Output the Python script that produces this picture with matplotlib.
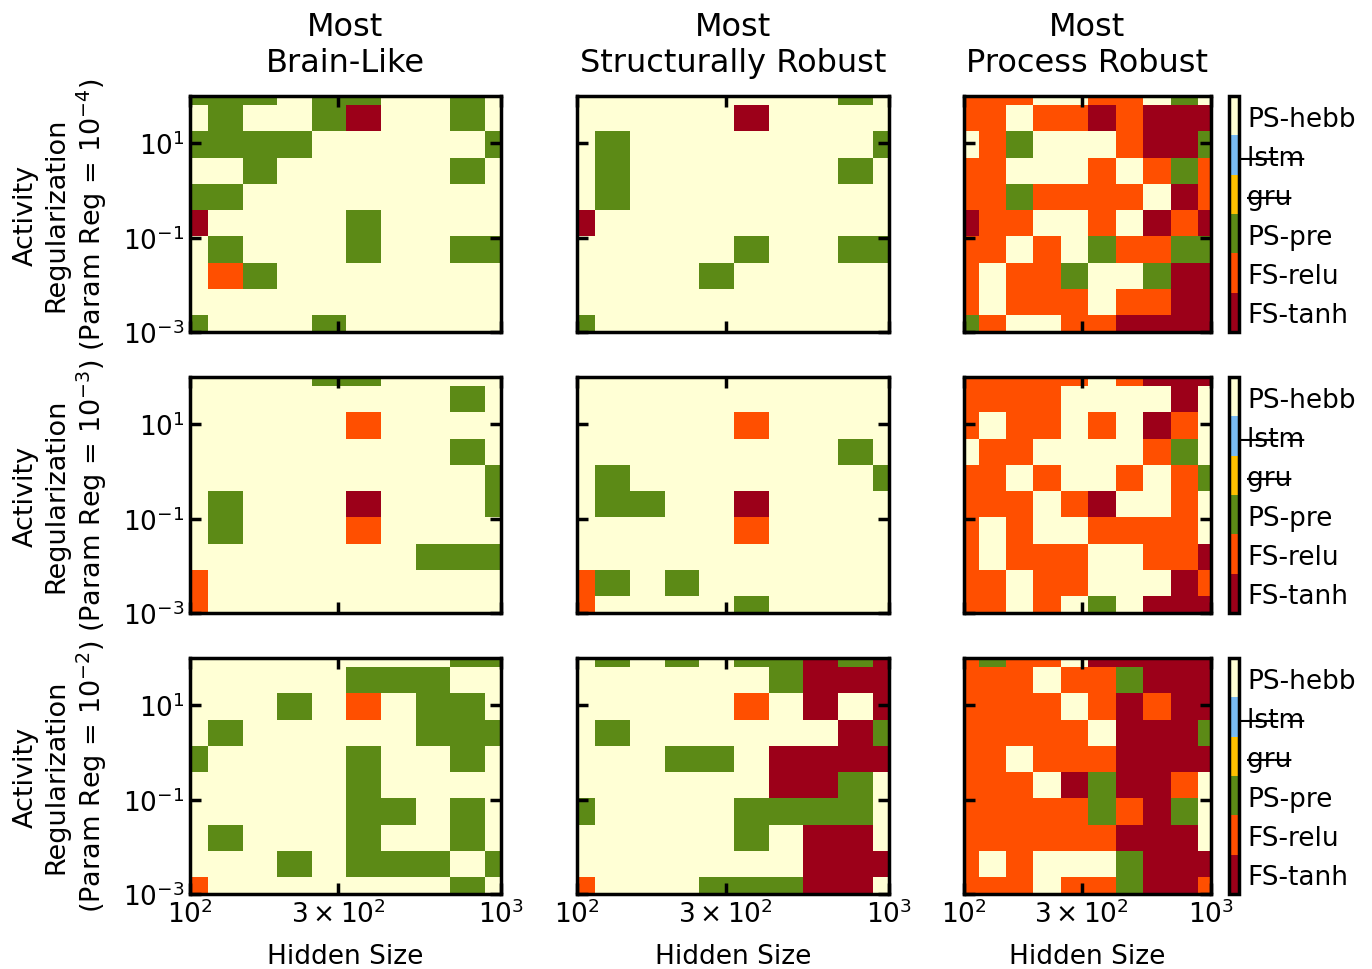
import numpy as np
import matplotlib
matplotlib.use('Agg')
from matplotlib import pyplot as plt
from matplotlib.cm import ScalarMappable
from matplotlib.colors import ListedColormap, BoundaryNorm
from matplotlib.ticker import FixedLocator, FixedFormatter, NullLocator

# axis values (cell centres)
hidden_sizes = [100, 129, 167, 215, 278, 359, 464, 599, 774, 1000]
act_regs = [1e-3, 3.59e-3, 1.29e-2, 4.64e-2, 1.67e-1, 5.99e-1, 2.15, 7.74, 27.8, 100]

# categories, bottom to top on the colorbar
model_names = ['FS-tanh', 'FS-relu', 'PS-pre', 'gru', 'lstm', 'PS-hebb']
model_colors = ['#9c0019', '#ff4f00', '#5c8a16', '#ffc000', '#79bbf3', '#ffffd5']
codes = {'T': 0, 'R': 1, 'P': 2, 'G': 3, 'L': 4, 'H': 5}

titles = ['Most\nBrain-Like', 'Most\nStructurally Robust', 'Most\nProcess Robust']
param_regs = ['-4', '-3', '-2']

# winning model per (act reg, hidden size); rows listed top (1e2) to bottom (1e-3)
brain_1e4 = ['PPPHPPHHPH', 'HPHHPTHHPH', 'PPPPHHHHHP', 'HHPHHHHHPH', 'PPHHHHHHHH',
             'THHHHPHHHH', 'HPHHHPHHPP', 'HRPHHHHHHH', 'HHHHHHHHHH', 'PHHHPHHHHH']
struct_1e4 = ['HHHHHHHHPH', 'HHHHHTHHHH', 'HPHHHHHHHP', 'HPHHHHHHPH', 'HPHHHHHHHH',
              'THHHHHHHHH', 'HHHHHPHHPP', 'HHHHPHHHHH', 'HHHHHHHHHH', 'PHHHHHHHHH']
process_1e4 = ['RRRHHRRHPH', 'RRHRRTRTTT', 'HRPHHHRTTP', 'RRHHHRHRPR', 'RRPRRRRHTR',
               'TRRHHRHTRT', 'RRHRHPRRPP', 'RHRRPHHPTT', 'RHRRRHRRTT', 'PRHHRRTTTT']

brain_1e3 = ['HHHHPPHHHH', 'HHHHHHHHPH', 'HHHHHRHHHH', 'HHHHHHHHPH', 'HHHHHHHHHP',
             'HPHHHTHHHP', 'HPHHHRHHHH', 'HHHHHHHPPP', 'RHHHHHHHHH', 'RHHHHHHHHH']
struct_1e3 = ['HHHHHHHHHH', 'HHHHHHHHHH', 'HHHHHRHHHH', 'HHHHHHHHPH', 'HPHHHHHHHP',
              'HPPHHTHHHH', 'HHHHHRHHHH', 'HHHHHHHHHH', 'RPHPHHHHHH', 'RHHHHPHHHH']
process_1e3 = ['RRRRRHRTTT', 'RRRRHHHHTH', 'RHRRHRHTRH', 'HRRHHHHRPH', 'RRHRHHRHRP',
               'RRRHRTHHRH', 'RHRHHRRRRH', 'RHRRRHHRRT', 'RRHRRHHHTR', 'RRHRHPHTTT']

brain_1e2 = ['HHHHHHHHPP', 'HHHHHPPPHH', 'HHHPHRHPPH', 'HPHHHHHPPP', 'PHHHHPHHPH',
             'HHHHHPHHHH', 'HHHHHPPHPH', 'HPHHHPHHPH', 'HHHPHPPPHP', 'RHHHHHHHPH']
struct_1e2 = ['HPHPHPPTPT', 'HHHHHHPTTT', 'HHHHHRHTHT', 'HPHHHHHHTP', 'HHHPPHTTTT',
              'HHHHHHTTPH', 'PHHHHPPPPH', 'HHHHHPHTTH', 'HHHHHHHTTT', 'RHHHPPPTTH']
process_1e2 = ['RPRRHTTTTT', 'RRRHRRPTTT', 'RRRRHRTRTT', 'RRRRRHTTTP', 'RRHRRRTTTT',
               'RRRHTPTTRH', 'RRRRRPRTPH', 'RRRRRRTTTH', 'RHRHHHPTTT', 'RRRHRRPTTR']

grids = [[brain_1e4, struct_1e4, process_1e4],
         [brain_1e3, struct_1e3, process_1e3],
         [brain_1e2, struct_1e2, process_1e2]]

cmap = ListedColormap(model_colors)
norm = BoundaryNorm(np.arange(-0.5, len(model_names)), cmap.N)


def strike(s):
    return ''.join(ch + '\u0336' for ch in s)


fig = plt.figure(figsize=(13.72, 9.70), dpi=100)
W, H = 1372.0, 970.0
col_left = [190, 577, 964]
col_width = [311, 312, 247]
row_top = [97, 378, 659]
row_height = 236

for i in range(3):
    for j in range(3):
        ax = fig.add_axes([col_left[j] / W, 1 - (row_top[i] + row_height) / H,
                           col_width[j] / W, row_height / H])
        z = np.array([[codes[c] for c in row] for row in grids[i][j][::-1]])
        ax.pcolormesh(hidden_sizes, act_regs, z, cmap=cmap, norm=norm, shading='nearest')
        ax.set_xscale('log')
        ax.set_yscale('log')
        ax.set_xlim(100, 1000)
        ax.set_ylim(1e-3, 1e2)

        ax.xaxis.set_major_locator(FixedLocator([100, 300, 1000]))
        ax.xaxis.set_minor_locator(NullLocator())
        ax.yaxis.set_major_locator(FixedLocator([1e-3, 1e-1, 1e1]))
        ax.yaxis.set_minor_locator(NullLocator())
        if i == 2:
            ax.xaxis.set_major_formatter(FixedFormatter(['$10^2$', r'$3\times10^2$', '$10^3$']))
            ax.set_xlabel('Hidden Size', fontsize=19, labelpad=11)
        else:
            ax.set_xticklabels([])
        if j == 0:
            ax.set_ylabel('Activity\nRegularization\n(Param Reg = $10^{%s}$)' % param_regs[i],
                          fontsize=19.5, labelpad=10)
        else:
            ax.set_yticklabels([])
        if i == 0:
            ax.set_title(titles[j], fontsize=23, pad=18)

        ax.tick_params(direction='in', top=True, right=True, length=8, width=2.5,
                       labelsize=19, pad=4)
        for sp in ax.spines.values():
            sp.set_linewidth(2.5)

    cax = fig.add_axes([1229 / W, 1 - (row_top[i] + row_height) / H, 10 / W, row_height / H])
    cb = fig.colorbar(ScalarMappable(norm=norm, cmap=cmap), cax=cax,
                      ticks=range(len(model_names)))
    cb.ax.minorticks_off()
    cb.ax.set_yticklabels([strike(n) if n in ('lstm', 'gru') else n for n in model_names])
    cb.ax.tick_params(which='both', length=0, labelsize=19, pad=6)
    cb.outline.set_linewidth(2.5)

fig.savefig('out.png', dpi=100)
